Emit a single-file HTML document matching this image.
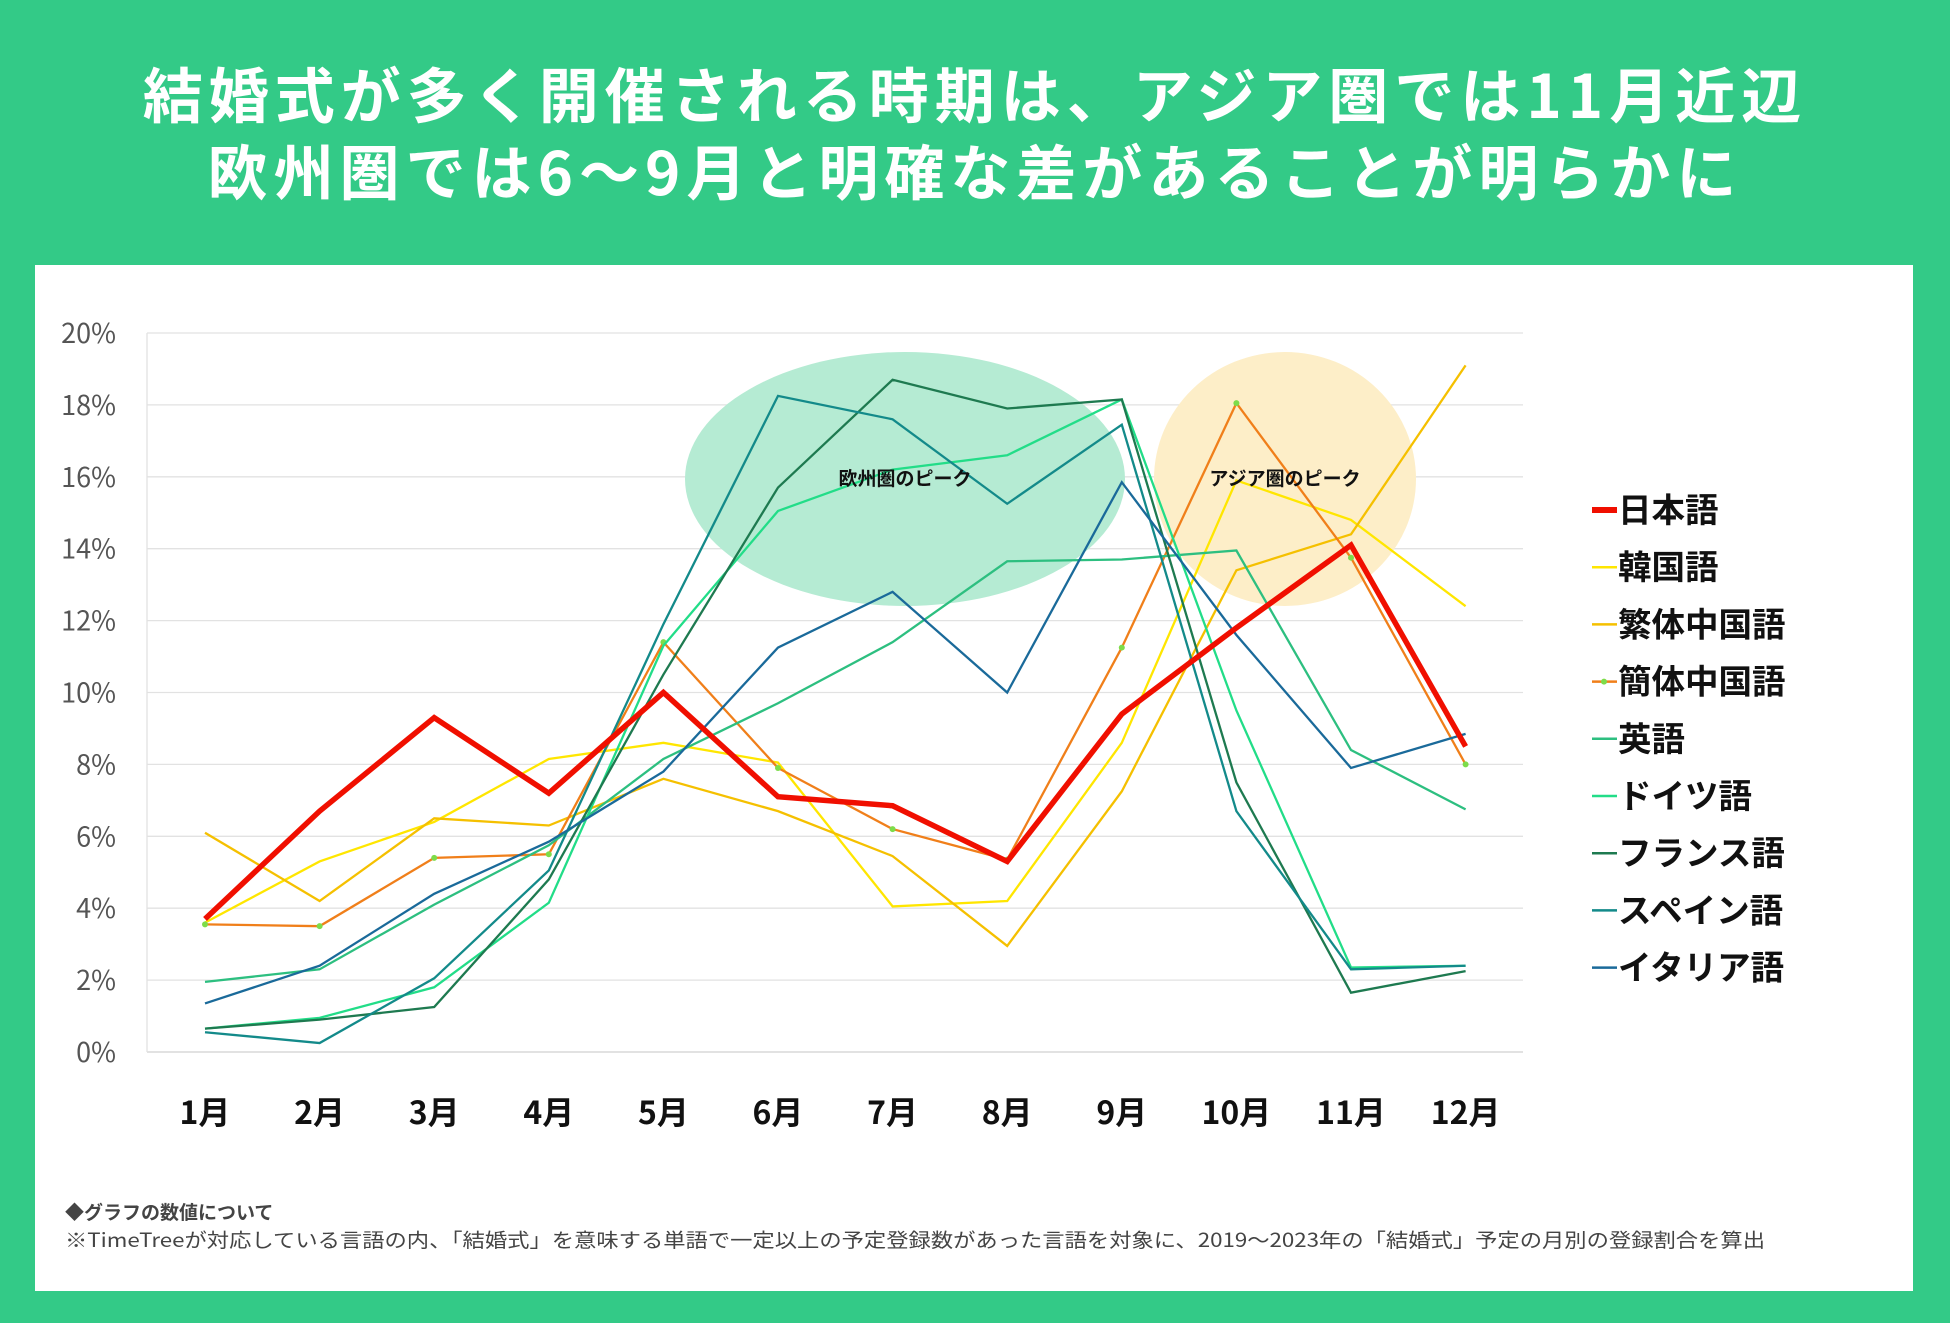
<!DOCTYPE html>
<html lang="ja"><head><meta charset="utf-8"><title>結婚式の時期</title>
<style>
html,body{margin:0;padding:0;}
body{width:1950px;height:1323px;background:#33ca87;position:relative;overflow:hidden;font-family:"Noto Sans CJK JP","Liberation Sans",sans-serif;}
.title{position:absolute;left:0;width:1950px;text-align:center;color:#fff;font-weight:bold;font-size:60px;line-height:76px;letter-spacing:6px;}
#panel{position:absolute;left:35px;top:265px;width:1878px;height:1026px;background:#fff;}
svg{position:absolute;left:0;top:0;font-family:"Noto Sans CJK JP","Liberation Sans",sans-serif;}
</style></head><body>
<div class="title" style="top:55px">結婚式が多く開催される時期は、アジア圏では11月近辺</div>
<div class="title" style="top:132px">欧州圏では6〜9月と明確な差があることが明らかに</div>
<div id="panel"></div>
<svg id="chart" width="1950" height="1323"></svg>
<script>
const months=["1月","2月","3月","4月","5月","6月","7月","8月","9月","10月","11月","12月"];
const yTicks=[0,2,4,6,8,10,12,14,16,18,20];
const seriesNames=["日本語","韓国語","繁体中国語","簡体中国語","英語","ドイツ語","フランス語","スペイン語","イタリア語"];
const japanese=[3.7,6.7,9.3,7.2,10.0,7.1,6.85,5.3,9.4,11.8,14.1,8.5];
const korean=[3.6,5.3,6.4,8.15,8.6,8.05,4.05,4.2,8.6,15.9,14.8,12.4];
const tradChinese=[6.1,4.2,6.5,6.3,7.6,6.7,5.45,2.95,7.25,13.4,14.4,19.1];
const simpChinese=[3.55,3.5,5.4,5.5,11.4,7.9,6.2,5.35,11.25,18.05,13.75,8.0];
const english=[1.95,2.3,4.1,5.75,8.15,9.7,11.4,13.65,13.7,13.95,8.4,6.75];
const german=[0.65,0.95,1.8,4.15,11.3,15.05,16.2,16.6,18.15,9.5,2.35,2.4];
const french=[0.65,0.9,1.25,4.8,10.5,15.7,18.7,17.9,18.15,7.5,1.65,2.25];
const spanish=[0.55,0.25,2.05,5.05,11.9,18.25,17.6,15.25,17.45,6.7,2.3,2.4];
const italian=[1.35,2.4,4.4,5.85,7.8,11.25,12.8,10.0,15.85,11.6,7.9,8.85];

const NS="http://www.w3.org/2000/svg";
const svg=document.getElementById('chart');
function el(t,a,p){const e=document.createElementNS(NS,t);for(const k in a)e.setAttribute(k,a[k]);(p||svg).appendChild(e);return e;}
const X=i=>205+i*114.6;
const Y=v=>1052-v*35.95;

yTicks.forEach(v=>{
  const g=el('line',{x1:147,x2:1523,y1:Y(v),y2:Y(v),stroke:v===0?'#d0d0d0':'#e2e2e2','stroke-width':1.3});
  
  
  const t=el('text',{x:116,y:Y(v)+10,'text-anchor':'end','font-size':27,fill:'#555'});
  t.textContent=v+'%';
  
  
});
const ax=el('line',{x1:147,x2:147,y1:Y(20),y2:Y(0),stroke:'#e2e2e2','stroke-width':1.3});



const e1=el('ellipse',{cx:905,cy:479,rx:220,ry:127,fill:'#b5ebd3'});


const e2=el('ellipse',{cx:1285,cy:479,rx:131,ry:127,fill:'#fdeec8'});



months.forEach((m,i)=>{
  const t=el('text',{x:X(i),y:1124,'text-anchor':'middle','font-size':32,'font-weight':'bold',fill:'#111'});
  t.textContent=m;
  
  
});

const data=[japanese,korean,tradChinese,simpChinese,english,german,french,spanish,italian];
const colors=['#f00f00','#ffe600','#f5c000','#f07f1a','#2dbf80','#22dd88','#1e7a50','#138a8a','#1a6a9a'];
const widths=[5.5,2.3,2.3,2.3,2.3,2.3,2.3,2.3,2.3];
const order=[1,2,3,4,5,6,7,8,0];
order.forEach(s=>{
  const pts=data[s].map((v,i)=>X(i)+','+Y(v)).join(' ');
  const p=el('polyline',{points:pts,fill:'none',stroke:colors[s],'stroke-width':widths[s],'stroke-linejoin':'miter'});
  
  
  if(s===3){data[s].forEach((v,i)=>{
    const c=el('circle',{cx:X(i),cy:Y(v),r:3,fill:'#7ddc4a'});
    
    
  });}
});

const l1=el('text',{x:905,y:485,'text-anchor':'middle','font-size':19,'font-weight':'bold',fill:'#111'});
l1.textContent='欧州圏のピーク';


const l2=el('text',{x:1285,y:485,'text-anchor':'middle','font-size':19,'font-weight':'bold',fill:'#111'});
l2.textContent='アジア圏のピーク';



seriesNames.forEach((n,s)=>{
  const y=510+s*57.2;
  const ln=el('line',{x1:1592,x2:1617,y1:y,y2:y,stroke:colors[s],'stroke-width':s===0?6:2.5});
  
  
  if(s===3){const c=el('circle',{cx:1604,cy:y,r:3,fill:'#7ddc4a'});
    
    }
  const t=el('text',{x:1618,y:y+12,'font-size':33.5,'font-weight':'bold',fill:'#111'});
  t.textContent=n;
  
  
});

const f1=el('text',{x:65,y:1219,'font-size':19,'font-weight':'bold',fill:'#444'});
f1.textContent='◆グラフの数値について';


const f2=el('text',{x:65,y:1247,'font-size':19.5,fill:'#444',textLength:1700,lengthAdjust:'spacingAndGlyphs'});
f2.textContent='※TimeTreeが対応している言語の内、「結婚式」を意味する単語で一定以上の予定登録数があった言語を対象に、2019〜2023年の「結婚式」予定の月別の登録割合を算出';


</script>
</body></html>
